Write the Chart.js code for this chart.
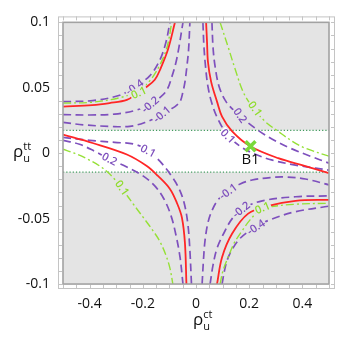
<!DOCTYPE html>
<html>
<head>
<meta charset="utf-8">
<script src="https://cdn.jsdelivr.net/npm/chart.js@4.4.1/dist/chart.umd.min.js"></script>
<style>
  html, body { margin: 0; padding: 0; background: #fff; }
</style>
</head>
<body>
<canvas id="contourChart" width="349" height="342"></canvas>
<script>
'use strict';

// ---- values (x = rho_u^ct, y = rho_u^tt) ----
const plotX = [-0.5, 0.5];
const plotY = [-0.1, 0.1];
const xTickLabels = [-0.4, -0.2, 0, 0.2, 0.4];
const yTickLabels = [-0.1, -0.05, 0, 0.05, 0.1];
const bandLimits = [-0.0145, 0.0175];   // white allowed strip

// red solid curves
const redTopLeft = [[-0.5,0.0356],[-0.39,0.0367],[-0.325,0.0383],[-0.26,0.0407],[-0.223,0.0455],[-0.185,0.0508],[-0.155,0.0561],[-0.136,0.0634],[-0.106,0.0788],[-0.079,0.1]];
const redTopRight = [[0.038,0.1],[0.0415,0.0848],[0.045,0.0697],[0.057,0.0545],[0.079,0.0394],[0.098,0.028],[0.136,0.0167],[0.204,0.0053],[0.309,-0.0038],[0.411,-0.0098],[0.5,-0.0152]];
const redBottomLeft = [[-0.5,0.0142],[-0.389,0.0078],[-0.26,-0.001],[-0.185,-0.0098],[-0.143,-0.0174],[-0.098,-0.0273],[-0.072,-0.0379],[-0.053,-0.0492],[-0.0415,-0.0689],[-0.036,-0.1]];
const redBottomRight = [[0.079,-0.1],[0.098,-0.0795],[0.136,-0.0614],[0.196,-0.0462],[0.272,-0.0402],[0.374,-0.0364],[0.5,-0.0356]];

// green dash-dot curves (level 0.1)
const greenTopLeft = [[-0.5,0.0383],[-0.389,0.039],[-0.287,0.0424],[-0.223,0.047],[-0.174,0.0553],[-0.136,0.0674],[-0.109,0.081],[-0.091,0.1]];
const greenTopRight = [[0.0906,0.1],[0.121,0.081],[0.147,0.0644],[0.177,0.047],[0.211,0.0356],[0.26,0.0242],[0.309,0.0167],[0.362,0.0091],[0.411,0.0038],[0.5,-0.0023]];
const greenBottomLeft = [[-0.5,0.003],[-0.457,0],[-0.408,-0.0045],[-0.362,-0.0098],[-0.317,-0.0174],[-0.275,-0.028],[-0.234,-0.0394],[-0.192,-0.0508],[-0.162,-0.0591],[-0.136,-0.0674],[-0.113,-0.078],[-0.098,-0.0879],[-0.087,-0.1]];
const greenBottomRight = [[0.0906,-0.1],[0.102,-0.0894],[0.121,-0.0795],[0.143,-0.0689],[0.174,-0.0591],[0.204,-0.0508],[0.234,-0.0447],[0.272,-0.0413],[0.374,-0.039],[0.5,-0.0383]];

// purple dashed curves
const purpleTL04 = [[-0.5,0.0394],[-0.389,0.0402],[-0.287,0.0443],[-0.23,0.0508],[-0.174,0.0591],[-0.136,0.0712],[-0.113,0.0848],[-0.098,0.1]];
const purpleTL02 = [[-0.5,0.0295],[-0.4,0.0292],[-0.306,0.0299],[-0.23,0.0326],[-0.174,0.0371],[-0.136,0.0424],[-0.109,0.0485],[-0.091,0.0583],[-0.075,0.0697],[-0.064,0.0811],[-0.049,0.1]];
const purpleTL01 = [[-0.5,0.0235],[-0.419,0.0216],[-0.325,0.0205],[-0.249,0.0205],[-0.192,0.0235],[-0.143,0.028],[-0.106,0.0326],[-0.079,0.0356],[-0.06,0.0394],[-0.049,0.047],[-0.0415,0.0545],[-0.034,0.0667],[-0.028,0.0788],[-0.023,0.1]];
const purpleTR02 = [[0.06,0.1],[0.064,0.081],[0.072,0.0659],[0.087,0.0508],[0.113,0.0394],[0.147,0.0318],[0.185,0.025],[0.234,0.0174],[0.287,0.0106],[0.355,0.0038],[0.43,-0.0023],[0.5,-0.0076]];
const purpleTR01 = [[0.026,0.1],[0.03,0.081],[0.036,0.0659],[0.045,0.0508],[0.06,0.0379],[0.083,0.0258],[0.117,0.0144],[0.166,0.0053],[0.223,-0.0008],[0.287,-0.0053],[0.374,-0.0091],[0.449,-0.0114],[0.5,-0.0129]];
const purpleLL01 = [[-0.5,0.0121],[-0.4,0.0098],[-0.306,0.0083],[-0.23,0.0068],[-0.181,0.0023],[-0.136,-0.0061],[-0.087,-0.0189],[-0.06,-0.0288],[-0.042,-0.0402],[-0.03,-0.0553],[-0.023,-0.0742],[-0.017,-0.1]];
const purpleLL02 = [[-0.5,0.0098],[-0.438,0.0068],[-0.381,0.0015],[-0.325,-0.0045],[-0.26,-0.0106],[-0.204,-0.0167],[-0.155,-0.025],[-0.121,-0.0348],[-0.094,-0.0477],[-0.075,-0.0629],[-0.06,-0.0795],[-0.049,-0.1]];
const purpleBR01 = [[0.023,-0.1],[0.028,-0.0818],[0.034,-0.0667],[0.045,-0.053],[0.06,-0.0439],[0.083,-0.0356],[0.121,-0.0288],[0.166,-0.0235],[0.211,-0.0205],[0.279,-0.0186],[0.336,-0.0182],[0.411,-0.0197],[0.5,-0.0242]];
const purpleBR02 = [[0.053,-0.1],[0.064,-0.0856],[0.079,-0.0727],[0.106,-0.0606],[0.136,-0.05],[0.174,-0.0424],[0.249,-0.0364],[0.374,-0.0333],[0.5,-0.0326]];
const purpleBR04 = [[0.098,-0.1],[0.106,-0.0909],[0.117,-0.0818],[0.136,-0.0735],[0.162,-0.0659],[0.192,-0.0606],[0.226,-0.0561],[0.279,-0.0508],[0.374,-0.0447],[0.5,-0.0405]];

// benchmark point
const benchX = [0.205];
const benchY = [0.0053];
const benchName = 'B1';

// contour labels: text, x, y, angle (deg)
const purpleLabels = [
  ['-0.4', -0.23, 0.0505, -35], ['-0.2', -0.172, 0.0372, -40], ['-0.1', -0.128, 0.0298, -40],
  ['0.2', 0.166, 0.0288, 55], ['0.1', 0.12, 0.013, 45],
  ['0.1', -0.18, 0.0018, 28], ['0.2', -0.325, -0.0045, 27],
  ['-0.1', 0.121, -0.0292, -36], ['-0.2', 0.17, -0.0432, -38], ['-0.4', 0.226, -0.0565, -33]
];
const greenLabels = [
  ['0.1', -0.215, 0.0462, -25], ['0.1', 0.222, 0.034, 55],
  ['0.1', -0.278, -0.0265, 55], ['0.1', 0.25, -0.0418, -22]
];

//----------------

const RED = '#ff2626';
const PURPLE = '#7e50bd';
const GREEN = '#95e036';
const GRAY = '#e4e4e4';
const FONT = '"Open Sans", "Noto Sans", sans-serif';

const toPts = arr => arr.map(([x, y]) => ({x, y}));

function curve(arr, color, dash, width, order) {
    return {
        data: toPts(arr),
        showLine: true,
        borderColor: color,
        borderWidth: width,
        borderDash: dash,
        pointRadius: 0,
        tension: 0.35,
        fill: false,
        order: order
    };
}

const datasets = [
    {
        data: [{x: benchX[0], y: benchY[0]}],
        pointStyle: 'crossRot',
        pointRadius: 7,
        borderColor: '#79d93a',
        borderWidth: 3.5,
        showLine: false,
        order: 0
    },
    ...[redTopLeft, redTopRight, redBottomLeft, redBottomRight].map(c => curve(c, RED, [], 1.8, 1)),
    ...[greenTopLeft, greenTopRight, greenBottomLeft, greenBottomRight].map(c => curve(c, GREEN, [8, 3, 2, 3], 1.4, 2)),
    ...[purpleTL04, purpleTL02, purpleTL01, purpleTR02, purpleTR01, purpleLL01, purpleLL02, purpleBR01, purpleBR02, purpleBR04]
        .map(c => curve(c, PURPLE, [8, 4.5], 1.7, 3)),
    // dotted edges of the white strip
    curve([[plotX[0], bandLimits[1]], [plotX[1], bandLimits[1]]], '#3f9a5c', [1.2, 2], 1.3, 4),
    curve([[plotX[0], bandLimits[0]], [plotX[1], bandLimits[0]]], '#3f9a5c', [1.2, 2], 1.3, 4)
];

// minor ticks for the frame
const xTicks = [];
for (let i = 0; i <= 20; i++) xTicks.push(Math.round((-0.5 + i * 0.05) * 100) / 100);
const yTicks = [];
for (let i = 0; i <= 20; i++) yTicks.push(Math.round((-0.1 + i * 0.01) * 100) / 100);

const isLabel = (list, v) => list.some(t => Math.abs(t - v) < 1e-9);

const framePlugin = {
    id: 'framePlugin',
    beforeDatasetsDraw(chart) {
        const {ctx, chartArea: a, scales: {x, y}} = chart;
        const l = x.getPixelForValue(plotX[0]), r = x.getPixelForValue(plotX[1]);
        const t = y.getPixelForValue(plotY[1]), b = y.getPixelForValue(plotY[0]);
        ctx.save();
        ctx.fillStyle = GRAY;
        ctx.fillRect(l, t, r - l, b - t);
        const bt = y.getPixelForValue(bandLimits[1]), bb = y.getPixelForValue(bandLimits[0]);
        ctx.fillStyle = '#fff';
        ctx.fillRect(l, bt, r - l, bb - bt);

        // outer frame with inward ticks
        ctx.strokeStyle = '#c4c4c4';
        ctx.lineWidth = 1;
        ctx.strokeRect(a.left + 0.5, a.top + 0.5, a.right - a.left - 1, a.bottom - a.top - 1);
        ctx.beginPath();
        xTicks.forEach(v => {
            const px = Math.round(x.getPixelForValue(v)) + 0.5;
            ctx.moveTo(px, a.bottom); ctx.lineTo(px, a.bottom - 4);
            ctx.moveTo(px, a.top); ctx.lineTo(px, a.top + 4);
        });
        yTicks.forEach(v => {
            const py = Math.round(y.getPixelForValue(v)) + 0.5;
            ctx.moveTo(a.left, py); ctx.lineTo(a.left + 4, py);
            ctx.moveTo(a.right, py); ctx.lineTo(a.right - 4, py);
        });
        ctx.stroke();
        ctx.restore();

        ctx.save();
        ctx.beginPath();
        ctx.rect(l, t, r - l, b - t);
        ctx.clip();
    },
    afterDatasetsDraw(chart) {
        const {ctx, scales: {x, y}} = chart;
        ctx.restore();

        const l = x.getPixelForValue(plotX[0]), r = x.getPixelForValue(plotX[1]);
        const t = y.getPixelForValue(plotY[1]), b = y.getPixelForValue(plotY[0]);
        ctx.save();
        ctx.strokeStyle = '#a2a2a2';
        ctx.lineWidth = 1.6;
        ctx.strokeRect(l, t, r - l, b - t);

        // contour labels, each on a small patch that breaks its curve
        const drawLabels = (list, color) => {
            list.forEach(([txt, lx, ly, ang]) => {
                const px = x.getPixelForValue(lx), py = y.getPixelForValue(ly);
                ctx.save();
                ctx.translate(px, py);
                ctx.rotate(ang * Math.PI / 180);
                ctx.font = '600 11px ' + FONT;
                const w = ctx.measureText(txt).width;
                ctx.fillStyle = (ly > bandLimits[0] && ly < bandLimits[1]) ? '#fff' : GRAY;
                ctx.fillRect(-w / 2 - 1, -5, w + 2, 10);
                ctx.fillStyle = color;
                ctx.textAlign = 'center';
                ctx.textBaseline = 'middle';
                ctx.fillText(txt, 0, 0.5);
                ctx.restore();
            });
        };
        drawLabels(purpleLabels, PURPLE);
        drawLabels(greenLabels, '#8fdc2c');

        // benchmark label
        ctx.fillStyle = '#111';
        ctx.font = '15px ' + FONT;
        ctx.textAlign = 'center';
        ctx.textBaseline = 'middle';
        ctx.fillText(benchName, x.getPixelForValue(benchX[0]), y.getPixelForValue(benchY[0]) + 13);

        // axis titles: rho with sub/superscripts
        const rho = (px, base, sup, sub) => {
            ctx.textAlign = 'left';
            ctx.textBaseline = 'alphabetic';
            ctx.font = '17px ' + FONT;
            ctx.fillText('\u03C1', px, base);
            const w = ctx.measureText('\u03C1').width;
            ctx.font = '11px ' + FONT;
            ctx.fillText(sup, px + w, base - 7);
            ctx.fillText(sub, px + w, base + 5);
        };
        ctx.fillStyle = '#111';
        rho(x.getPixelForValue(0) - 3, b + 41, 'ct', 'u');
        rho(13, y.getPixelForValue(0) + 4, 'tt', 'u');
        ctx.restore();
    }
};

const chart = new Chart(document.getElementById('contourChart'), {
    type: 'scatter',
    data: {datasets},
    options: {
        responsive: false,
        animation: false,
        events: [],
        layout: {padding: {top: 14, right: 14, left: 0, bottom: 0}},
        plugins: {legend: {display: false}, tooltip: {enabled: false}},
        scales: {
            x: {
                type: 'linear',
                min: plotX[0] - 5 / 266,
                max: plotX[1] + 6 / 266,
                grid: {display: false, drawTicks: false, tickLength: 0},
                border: {display: false},
                afterBuildTicks: s => { s.ticks = xTicks.map(v => ({value: v})); },
                afterFit: s => { s.height = 53; },
                ticks: {
                    autoSkip: false,
                    maxRotation: 0,
                    padding: 7,
                    color: '#111',
                    font: {family: FONT, size: 14},
                    callback: v => isLabel(xTickLabels, v) ? String(Math.round(v * 100) / 100) : ''
                }
            },
            y: {
                type: 'linear',
                min: plotY[0] - 5 / 1320,
                max: plotY[1] + 6 / 1320,
                grid: {display: false, drawTicks: false, tickLength: 0},
                border: {display: false},
                afterBuildTicks: s => { s.ticks = yTicks.map(v => ({value: v})); },
                afterFit: s => { s.width = 58; },
                ticks: {
                    autoSkip: false,
                    padding: 8,
                    color: '#111',
                    font: {family: FONT, size: 14},
                    callback: v => isLabel(yTickLabels, v) ? String(Math.round(v * 100) / 100) : ''
                }
            }
        }
    },
    plugins: [framePlugin]
});
</script>
</body>
</html>
